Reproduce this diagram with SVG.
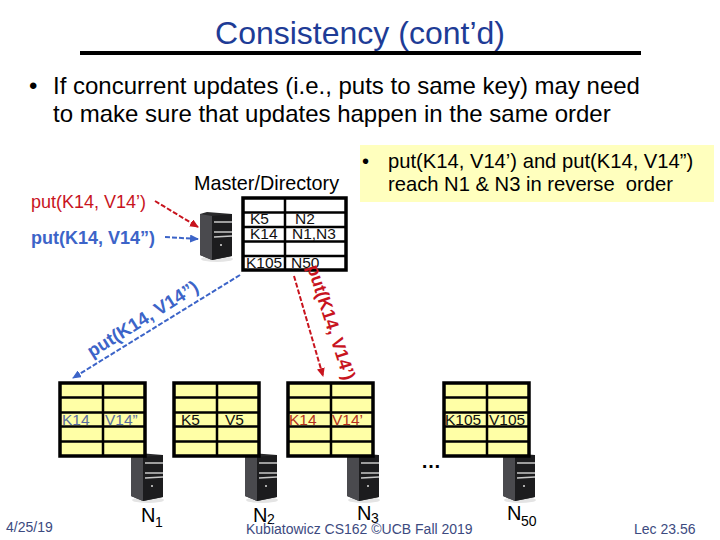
<svg xmlns="http://www.w3.org/2000/svg" width="720" height="540" viewBox="0 0 720 540">
<style>
text{font-family:"Liberation Sans",Arial,sans-serif}
.t{fill:#ffffa6;stroke:#000;stroke-width:3.5}
.l{stroke:#000;stroke-width:2.5}
.cell{font-size:15.5px;fill:#111}
.body{font-size:24px;fill:#000}
.note{font-size:20.2px;fill:#000}
.foot{font-size:14px;fill:#3c4a80}
.n{font-size:20px;fill:#000}
.sub{font-size:14px;fill:#000}
.red{fill:#c8141e}
.blue{fill:#3c64c8;font-weight:bold}
.rc{stroke:#c8141e;stroke-width:2;stroke-dasharray:5 2;fill:none}
.bc{stroke:#3c64c8;stroke-width:2;stroke-dasharray:5 2;fill:none}
</style>
<defs>
<marker id="ar" markerWidth="9" markerHeight="8" refX="8" refY="4" orient="auto" markerUnits="userSpaceOnUse"><path d="M0 0L9 4L0 8Z" fill="#c8141e"/></marker>
<marker id="ab" markerWidth="9" markerHeight="8" refX="8" refY="4" orient="auto" markerUnits="userSpaceOnUse"><path d="M0 0L9 4L0 8Z" fill="#3c64c8"/></marker>
<g id="srv">
<ellipse cx="17" cy="47" rx="16" ry="3" fill="#e4e4e4"/>
<path d="M0 2L7 0L32 2V44L12 48L0 43Z" fill="#2a2a2c"/>
<path d="M0 2L12 4V48L0 43Z" fill="#4a4a4e"/>
<path d="M12 4L32 2V44L12 48Z" fill="#1c1c1e"/>
<path d="M14 10H32M14 20H32M14 25L32 24" stroke="#c8c8c8" stroke-width="1.5"/>
<circle cx="21" cy="33" r="1" fill="#ddd"/>
</g>
<g id="tbl">
<rect x="0" y="0" width="85" height="73" class="t"/>
<path d="M43 0V73M0 14.500H85M0 29.500H85M0 43.500H85M0 58.500H85" class="l"/>
</g>
</defs>
<rect id="note-bg" x="360" y="145" width="354" height="57" fill="#ffffbe"/>
<g id="title">
<text x="360" y="44" text-anchor="middle" font-size="32" fill="#1e3c96">Consistency (cont’d)</text>
<rect x="80" y="51" width="561" height="4" fill="#000"/>
</g>
<g id="bullets">
<text x="29" y="94" class="body">•</text>
<text x="53" y="94" class="body">If concurrent updates (i.e., puts to same key) may need</text>
<text x="53" y="122" class="body">to make sure that updates happen in the same order</text>
</g>
<g id="note">
<text x="362" y="168" class="note">•</text>
<text x="388" y="168" class="note">put(K14, V14’) and put(K14, V14”)</text>
<text x="388" y="191" class="note">reach N1 &amp; N3 in reverse&#160; order</text>
</g>
<g id="master">
<text x="194" y="190" font-size="19.800">Master/Directory</text>
<use href="#srv" x="200" y="212"/>
<g>
<rect x="243" y="198" width="103" height="72" fill="#fff" stroke="#000" stroke-width="3.5"/>
<path d="M285 198V270M243 212.500H346M243 227H346M243 241.500H346M243 256H346" class="l"/>
<text x="250" y="224" class="cell">K5</text>
<text x="295" y="224" class="cell">N2</text>
<text x="250" y="239" class="cell">K14</text>
<text x="292" y="239" class="cell">N1,N3</text>
<text x="246" y="268" class="cell">K105</text>
<text x="291" y="268" class="cell">N50</text>
</g>
</g>
<g id="n1">
<use href="#srv" x="131" y="453"/>
<use href="#tbl" x="60" y="383"/>
<text x="62" y="425" class="cell" style="fill:#5a6ea0">K14</text>
<text x="105" y="425" class="cell" style="fill:#5a6ea0">V14”</text>
<text x="141" y="522" class="n">N</text><text x="155" y="527" class="sub">1</text>
</g>
<g id="n2">
<use href="#srv" x="245" y="453"/>
<use href="#tbl" x="174" y="383"/>
<text x="181" y="425" class="cell">K5</text>
<text x="225" y="425" class="cell">V5</text>
<text x="253" y="522" class="n">N</text><text x="267" y="524" class="sub">2</text>
</g>
<g id="n3">
<use href="#srv" x="347" y="453"/>
<use href="#tbl" x="288" y="383"/>
<text x="289" y="425" class="cell" style="fill:#b4321e">K14</text>
<text x="332" y="425" class="cell" style="fill:#b4321e">V14’</text>
<text x="357" y="520" class="n">N</text><text x="371" y="523" class="sub">3</text>
</g>
<g id="n50">
<use href="#srv" x="503" y="453"/>
<use href="#tbl" x="444" y="383"/>
<text x="445" y="425" class="cell">K105</text>
<text x="489" y="425" class="cell">V105</text>
<text x="507" y="520" class="n">N</text><text x="521" y="526" class="sub">50</text>
</g>
<text id="dots" x="421" y="468" font-size="20" font-weight="bold">…</text>
<g id="connectors">
<path d="M155 201L198 227" class="rc" marker-end="url(#ar)"/>
<path d="M165 237L198 239" class="bc" marker-end="url(#ab)"/>
<path d="M240 275L73 378" class="bc" marker-end="url(#ab)"/>
<path d="M294 276L323 376" class="rc" marker-end="url(#ar)"/>
</g>
<g id="labels">
<text x="31" y="208" font-size="18" class="red">put(K14, V14’)</text>
<text x="31" y="244" font-size="18" class="blue">put(K14, V14”)</text>
<text transform="translate(92 358) rotate(-32)" font-size="18.500" class="blue">put(K14, V14”)</text>
<text transform="translate(307 267) rotate(72)" font-size="18" font-weight="bold" class="red">put(K14, V14’)</text>
</g>
<g id="footer">
<text x="6" y="532" class="foot">4/25/19</text>
<text x="246" y="534" class="foot">Kubiatowicz CS162 ©UCB Fall 2019</text>
<text x="634" y="534" class="foot">Lec 23.56</text>
</g>
</svg>
